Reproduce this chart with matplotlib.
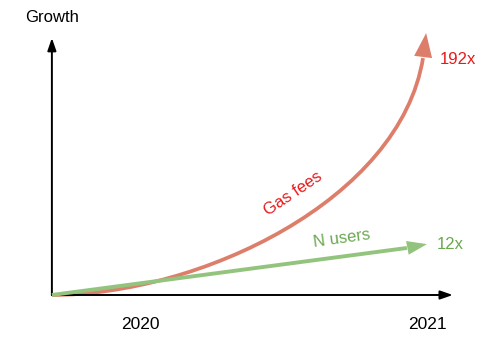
import matplotlib
matplotlib.use("Agg")
import matplotlib.pyplot as plt
from matplotlib.path import Path
from matplotlib.patches import PathPatch

plt.rcParams['font.family'] = ['Liberation Sans', 'DejaVu Sans']

# time axis in years, growth as height relative to the top of the y axis
origin_year = 2019.693
axis_end_year = 2021.09
year_labels = ["2020", "2021"]
year_ticks = [2020.0, 2021.0]

# gas fees: cubic Bezier (start, two control points, end) then the arrow tip
gas_years = [2019.693, 2020.209, 2020.906, 2020.986]
gas_growth = [0.0, 0.0, 0.370, 0.922]
gas_tip = (2020.997, 1.019)

users_years = [2019.693, 2020.930]
users_growth = [0.0, 0.183]
users_tip = (2021.0, 0.198)

gas_color = "#DD7E6B"
gas_text = "#E8191B"
users_color = "#93C47D"
users_text = "#6AA84F"

fig = plt.figure(figsize=(5.01, 3.43), dpi=100)
ax = fig.add_axes([0, 0, 1, 1])
ax.set_xlim(2019.5122, 2021.2578)
ax.set_ylim(-0.1868, 1.1479)
ax.axis("off")

# axes drawn as arrows
arrow_kw = dict(arrowstyle="-|>,head_length=7.5,head_width=2.6", mutation_scale=1,
                color="black", lw=1.4, shrinkA=0, shrinkB=0)
ax.annotate("", xy=(origin_year, 1.0), xytext=(origin_year, 0.0), arrowprops=arrow_kw)
ax.annotate("", xy=(axis_end_year, 0.0), xytext=(origin_year, 0.0), arrowprops=arrow_kw)

# N users: straight arrow
ax.plot(users_years, users_growth, color=users_color, lw=2.8, solid_capstyle="butt", zorder=3)
ax.annotate("", xy=users_tip, xytext=(users_years[-1], users_growth[-1]),
            arrowprops=dict(arrowstyle="-|>,head_length=14.4,head_width=5.0",
                            mutation_scale=1, color=users_color, lw=0,
                            shrinkA=0, shrinkB=0), zorder=3)

# gas fees: curved arrow
gas_path = Path(list(zip(gas_years, gas_growth)),
                [Path.MOVETO, Path.CURVE4, Path.CURVE4, Path.CURVE4])
ax.add_patch(PathPatch(gas_path, facecolor="none", edgecolor=gas_color, lw=2.7,
                       capstyle="butt", zorder=2))
ax.annotate("", xy=gas_tip, xytext=(gas_years[-1], gas_growth[-1]),
            arrowprops=dict(arrowstyle="-|>,head_length=17.3,head_width=6.5",
                            mutation_scale=1, color=gas_color, lw=0,
                            shrinkA=0, shrinkB=0), zorder=2)

# labels
fs = 12
ax.text(origin_year, 1.078, "Growth", fontsize=fs, ha="center", va="center")
for yr, lab in zip(year_ticks, year_labels):
    ax.text(yr, -0.113, lab, fontsize=12.5, ha="center", va="center")
ax.text(2021.045, 0.918, "192x", fontsize=fs, color=gas_text, ha="left", va="center")
ax.text(2021.035, 0.198, "12x", fontsize=fs, color=users_text, ha="left", va="center")
ax.text(2020.535, 0.395, "Gas fees", fontsize=fs, color=gas_text, rotation=34,
        ha="center", va="center", rotation_mode="anchor")
ax.text(2020.704, 0.218, "N users", fontsize=fs, color=users_text, rotation=8,
        ha="center", va="center", rotation_mode="anchor")

fig.savefig("out.png", dpi=100)
